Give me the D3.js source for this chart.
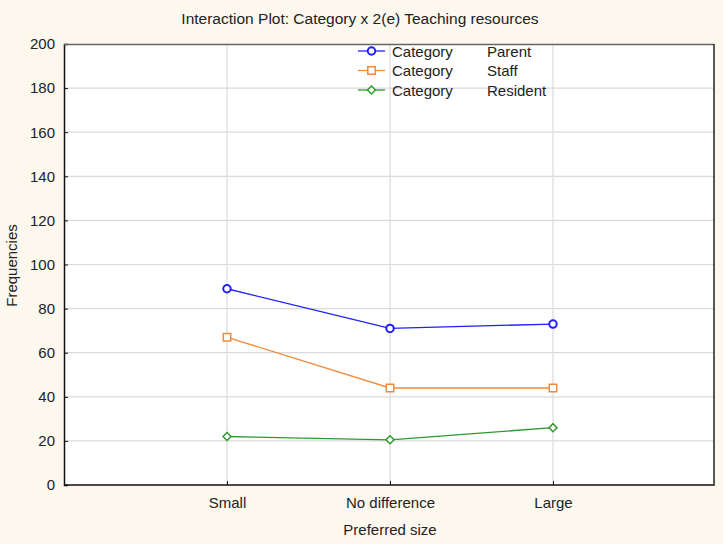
<!DOCTYPE html>
<html>
<head>
<meta charset="utf-8">
<script src="https://cdn.jsdelivr.net/npm/d3@7"></script>
<style>
  html, body { margin: 0; padding: 0; background: #fdf8ee; }
  svg { display: block; font-family: "Liberation Sans", Arial, sans-serif; }
</style>
</head>
<body>
<div id="chart"></div>
<script>
"use strict";

// Data
const categories = ["Small", "No difference", "Large"];
const seriesNames = ["Parent", "Staff", "Resident"];
const parentValues = [89, 71, 73];
const staffValues = [67, 44, 44];
const residentValues = [22, 20.5, 26];
const yTicks = [0, 20, 40, 60, 80, 100, 120, 140, 160, 180, 200];

const series = [
  { name: seriesNames[0], values: parentValues, color: "#1f1fff", marker: "circle" },
  { name: seriesNames[1], values: staffValues, color: "#f08a3c", marker: "square" },
  { name: seriesNames[2], values: residentValues, color: "#2e9a2e", marker: "diamond" },
];

// marker shapes (small open symbols)
function markerPath(kind) {
  if (kind === "circle") return d3.symbol(d3.symbolCircle, 44)();
  if (kind === "square") return "M-3.7,-3.7H3.7V3.7H-3.7Z";
  return "M0,-4L4,0L0,4L-4,0Z";
}

const W = 723, H = 544;
const margin = { top: 44, right: 9, bottom: 59, left: 64 };
const iw = W - margin.left - margin.right;
const ih = H - margin.top - margin.bottom;

const svg = d3.select("#chart").append("svg")
  .attr("width", W).attr("height", H);

// Title
svg.append("text")
  .attr("x", 360).attr("y", 24)
  .attr("text-anchor", "middle")
  .attr("font-size", 15.5).attr("fill", "#222")
  .text("Interaction Plot: Category x 2(e) Teaching resources");

const g = svg.append("g").attr("transform", `translate(${margin.left},${margin.top})`);

const x = d3.scaleLinear().domain([0, categories.length + 1]).range([0, iw + 2]);
const y = d3.scaleLinear().domain([0, 200]).range([ih, 0]);

// Plot background
g.append("rect").attr("width", iw).attr("height", ih).attr("fill", "#fff");

// Gridlines
g.append("g").selectAll("line").data(yTicks.slice(1, -1)).join("line")
  .attr("x1", 0).attr("x2", iw)
  .attr("y1", (d) => y(d)).attr("y2", (d) => y(d))
  .attr("stroke", "#dadada").attr("stroke-width", 1.2);
g.append("g").selectAll("line").data(categories).join("line")
  .attr("x1", (d, i) => x(i + 1)).attr("x2", (d, i) => x(i + 1))
  .attr("y1", 0).attr("y2", ih)
  .attr("stroke", "#dadada").attr("stroke-width", 1.2);

// Axes
const yAxis = g.append("g")
  .call(d3.axisLeft(y).tickValues(yTicks).tickSize(-4).tickPadding(9));
yAxis.select(".domain").attr("stroke", "#111").attr("stroke-width", 1.5);
yAxis.selectAll(".tick line").attr("stroke", "#111");
yAxis.selectAll(".tick text").attr("font-size", 15).attr("fill", "#222")
  .attr("font-family", "Liberation Sans, Arial, sans-serif");

const xAxis = g.append("g").attr("transform", `translate(0,${ih})`)
  .call(d3.axisBottom(x).tickValues(categories.map((d, i) => i + 1))
    .tickFormat((d) => categories[d - 1]).tickSize(-4).tickPadding(12));
xAxis.select(".domain").remove();
xAxis.append("line").attr("x1", 0).attr("x2", iw)
  .attr("stroke", "#111").attr("stroke-width", 1.5);
xAxis.selectAll(".tick line").attr("stroke", "#111");
xAxis.selectAll(".tick text").attr("font-size", 15).attr("fill", "#222")
  .attr("font-family", "Liberation Sans, Arial, sans-serif");

// Frame (top and right)
g.append("line").attr("x1", 0).attr("x2", iw).attr("y1", 0.5).attr("y2", 0.5)
  .attr("stroke", "#666").attr("stroke-width", 1.5);
g.append("line").attr("x1", iw).attr("x2", iw).attr("y1", 0).attr("y2", ih + 0.75)
  .attr("stroke", "#222").attr("stroke-width", 1.5);

// Axis titles
svg.append("text")
  .attr("x", margin.left + iw / 2 + 1).attr("y", 535)
  .attr("text-anchor", "middle").attr("font-size", 15).attr("fill", "#222")
  .text("Preferred size");
svg.append("text")
  .attr("transform", `translate(17,${margin.top + ih / 2 + 1}) rotate(-90)`)
  .attr("text-anchor", "middle").attr("font-size", 15).attr("fill", "#222")
  .text("Frequencies");

// Lines and markers
const line = d3.line().x((d, i) => x(i + 1)).y((d) => y(d));
series.forEach((s) => {
  g.append("path").datum(s.values)
    .attr("d", line).attr("fill", "none")
    .attr("stroke", s.color).attr("stroke-width", 1.3);
  g.append("g").selectAll("path").data(s.values).join("path")
    .attr("transform", (d, i) => `translate(${x(i + 1)},${y(d)})`)
    .attr("d", markerPath(s.marker))
    .attr("fill", "#fff").attr("stroke", s.color).attr("stroke-width", s.marker === "circle" ? 2 : 1.5);
});

// Legend
const legend = svg.append("g").attr("transform", "translate(358,51)");
series.forEach((s, i) => {
  const row = legend.append("g").attr("transform", `translate(0,${i * 19.5})`);
  row.append("line").attr("x1", 0).attr("x2", 27).attr("y1", 0).attr("y2", 0)
    .attr("stroke", s.color).attr("stroke-width", 1.3);
  row.append("path").attr("transform", "translate(13.5,0)")
    .attr("d", markerPath(s.marker))
    .attr("fill", "#fff").attr("stroke", s.color).attr("stroke-width", s.marker === "circle" ? 2 : 1.5);
  row.append("text").attr("x", 34).attr("y", 5.5)
    .attr("font-size", 15).attr("fill", "#222").text("Category");
  row.append("text").attr("x", 129).attr("y", 5.5)
    .attr("font-size", 15).attr("fill", "#222").text(s.name);
});
</script>
</body>
</html>
